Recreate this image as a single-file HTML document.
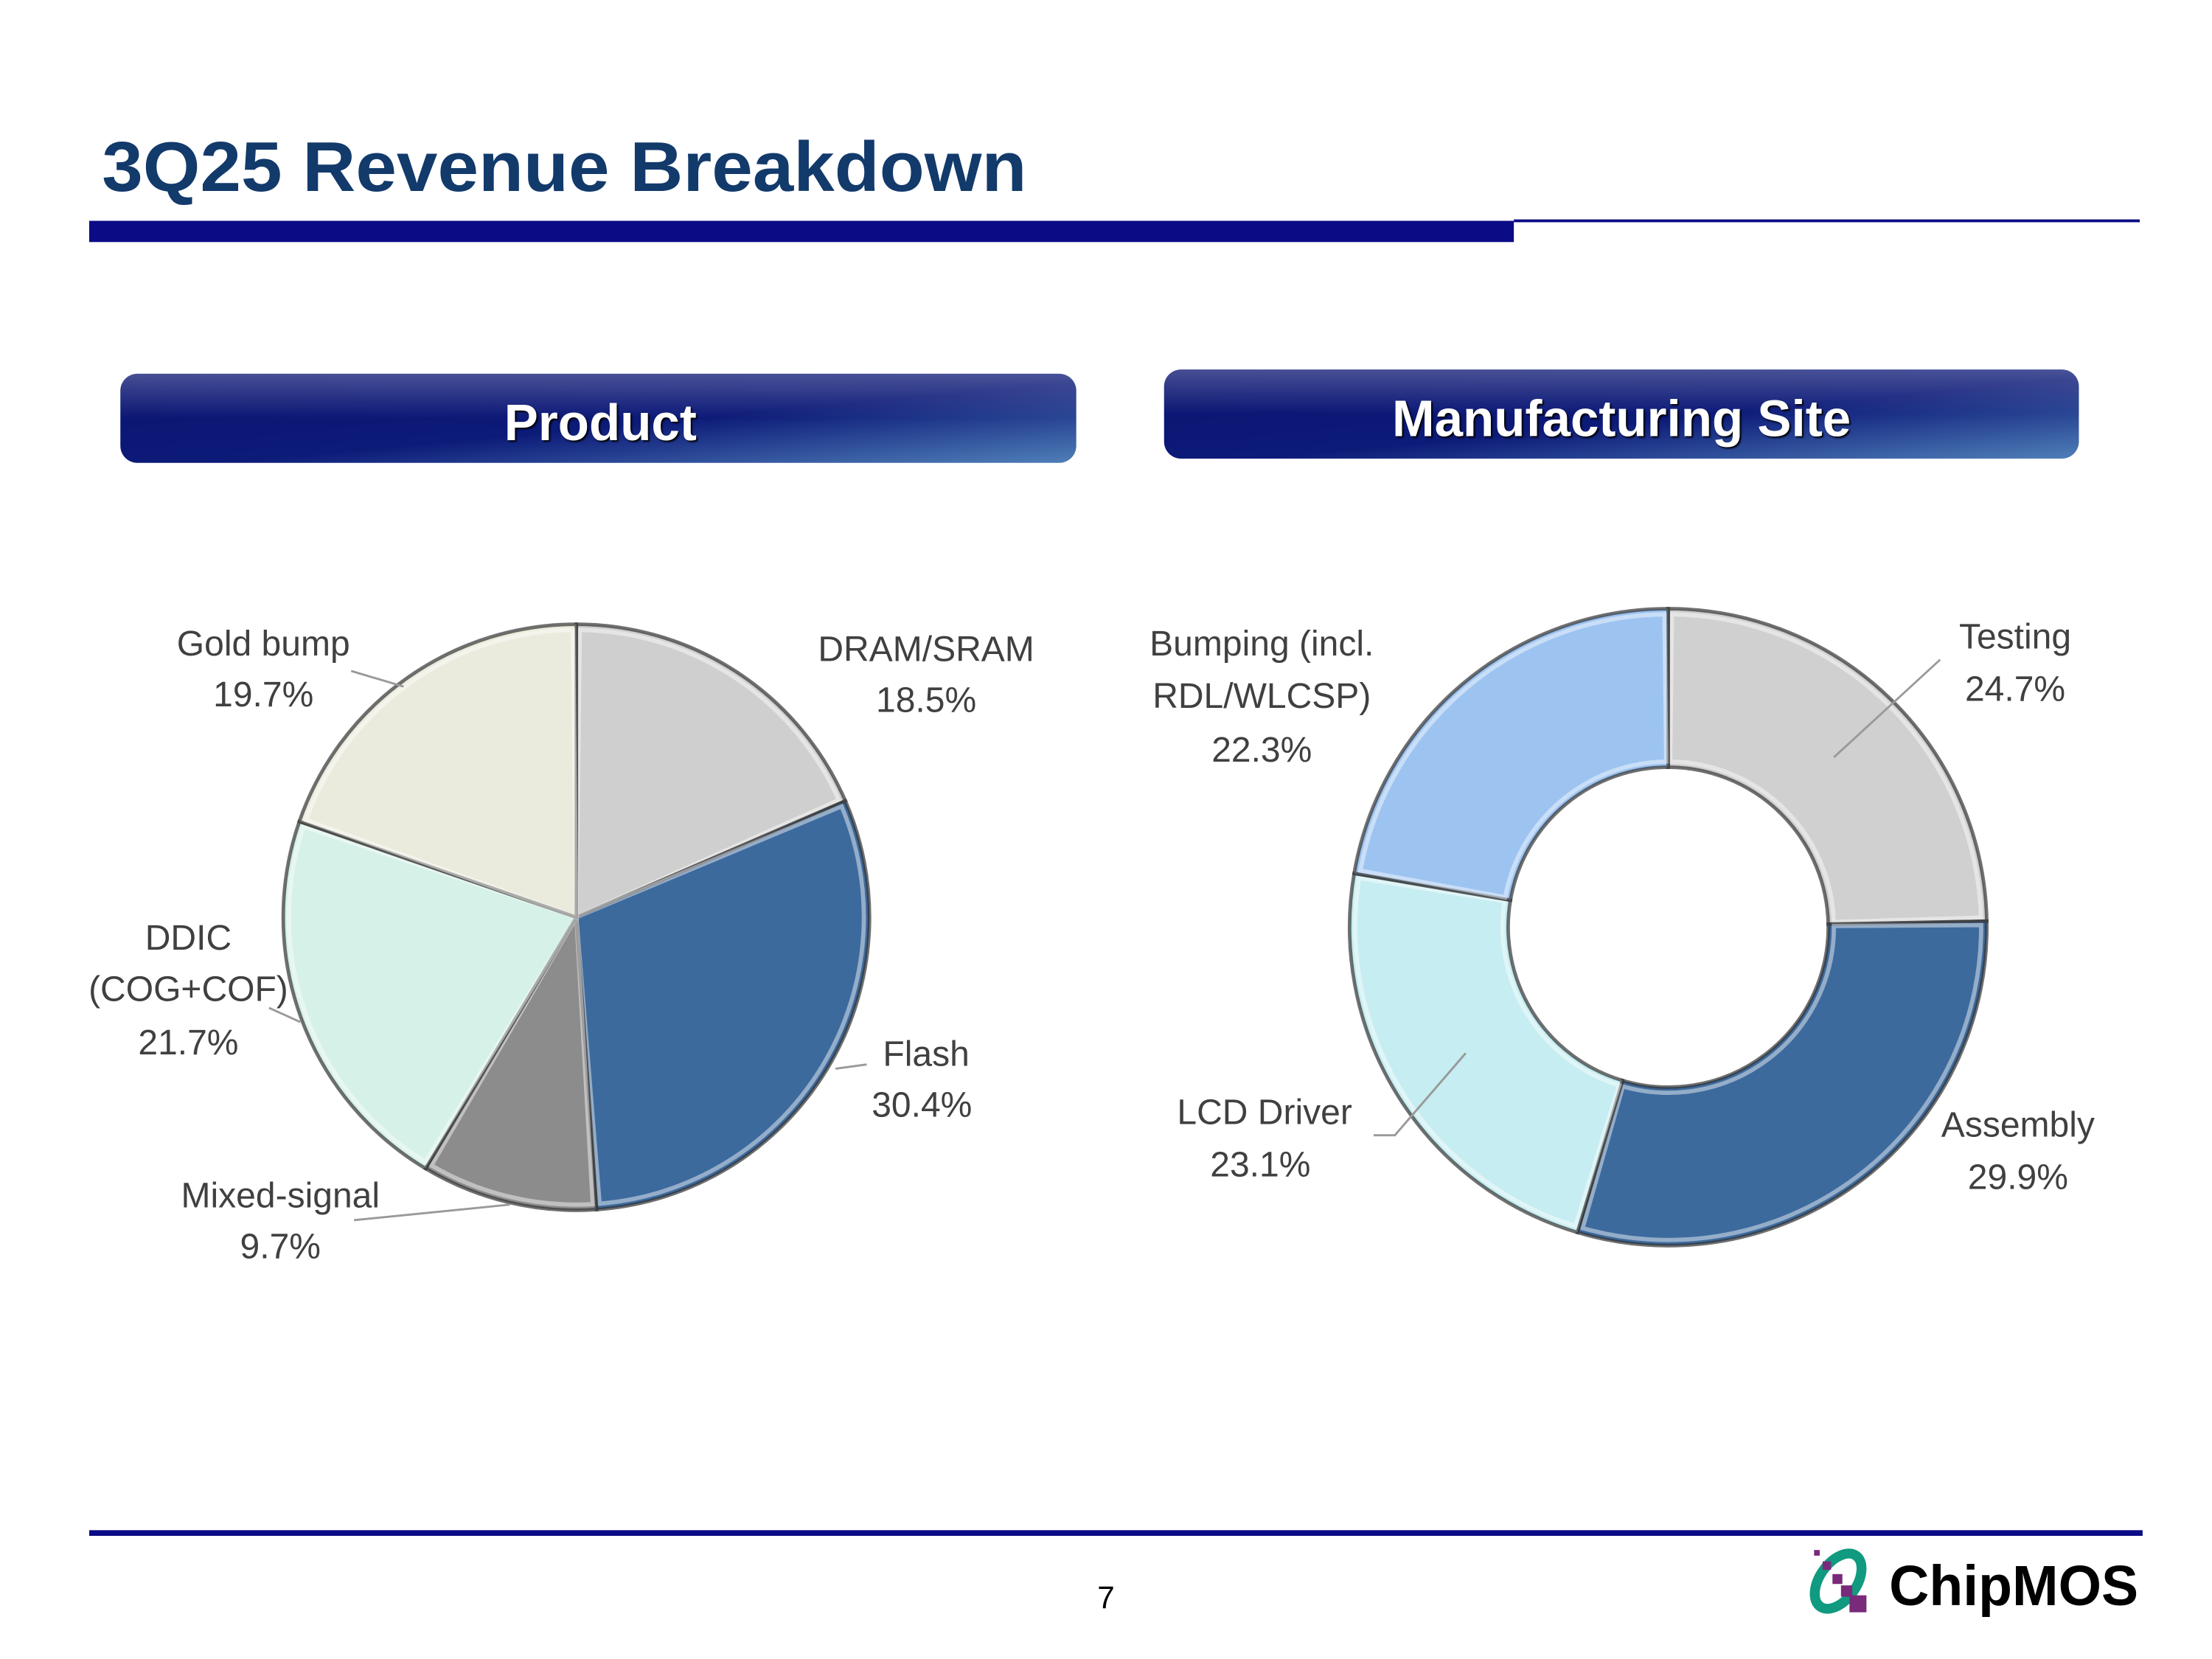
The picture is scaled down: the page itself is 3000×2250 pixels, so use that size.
<!DOCTYPE html>
<html><head><meta charset="utf-8"><style>
html,body{margin:0;padding:0;background:#fff;width:3000px;height:2250px;overflow:hidden}
svg{display:block}
text{font-family:"Liberation Sans",sans-serif}
</style></head><body>
<svg id="s" width="3000" height="2250" viewBox="0 0 1562 1172" preserveAspectRatio="none">
<defs>
<linearGradient id="hdr" x1="0" y1="0" x2="1" y2="1">
<stop offset="0" stop-color="#0a1470"/><stop offset="0.55" stop-color="#0c1a78"/><stop offset="1" stop-color="#4f7fb8"/></linearGradient>
<linearGradient id="hdr2" x1="0" y1="0" x2="0" y2="1">
<stop offset="0" stop-color="#fff" stop-opacity="0.25"/><stop offset="0.5" stop-color="#fff" stop-opacity="0"/></linearGradient>
</defs>
<text x="72" y="135" font-size="50" font-weight="bold" fill="#123a6b" textLength="653" lengthAdjust="spacingAndGlyphs">3Q25 Revenue Breakdown</text>
<rect x="63" y="156" width="1006" height="15" fill="#0b0b85"/>
<rect x="1069" y="155" width="442" height="2" fill="#0b0b85"/>
<g>
<rect x="85" y="264" width="675" height="63" rx="12" fill="url(#hdr)"/>
<rect x="85" y="264" width="675" height="63" rx="12" fill="url(#hdr2)"/>
<text x="424" y="311" font-size="36" font-weight="bold" fill="#fff" text-anchor="middle" style="text-shadow:2px 2px 2px #000">Product</text></g>
<g>
<rect x="822" y="261" width="646" height="63" rx="12" fill="url(#hdr)"/>
<rect x="822" y="261" width="646" height="63" rx="12" fill="url(#hdr2)"/>
<text x="1145" y="308" font-size="36" font-weight="bold" fill="#fff" text-anchor="middle" style="text-shadow:2px 2px 2px #000">Manufacturing Site</text></g>
<g id="pie1"></g>
<g id="pie2"></g>
<rect x="63" y="1081" width="1450" height="4" fill="#0b0b85"/>
<text x="781" y="1136" font-size="22" fill="#000" text-anchor="middle">7</text>
<g>
<ellipse cx="1298" cy="1117" rx="13" ry="22" transform="rotate(35 1298 1117)" fill="none" stroke="#109a80" stroke-width="7"/>
<rect x="1281" y="1095" width="4" height="4" fill="#7a2a7a"/><rect x="1287" y="1103" width="6" height="6" fill="#7a2a7a"/>
<rect x="1294" y="1112" width="7" height="7" fill="#7a2a7a"/><rect x="1300" y="1120" width="8" height="8" fill="#7a2a7a"/>
<rect x="1306" y="1127" width="12" height="12" fill="#7a2a7a"/>
<text x="1334" y="1134" font-size="40" font-weight="bold" fill="#000" textLength="176" lengthAdjust="spacingAndGlyphs">ChipMOS</text></g>
</svg>
<script>
const productCats=["DRAM/SRAM","Flash","Mixed-signal","DDIC (COG+COF)","Gold bump"];
const productVals=[18.5,30.4,9.7,21.7,19.7];
const productColors=["#cfcfcf","#3d6a9d","#8c8c8c","#d6f1e8","#ebebdd"];
const siteCats=["Testing","Assembly","LCD Driver","Bumping (incl. RDL/WLCSP)"];
const siteVals=[24.7,29.9,23.1,22.3];
const siteColors=["#d0d0d0","#3d6a9d","#c6edf1","#9dc4f1"];
const NS="http://www.w3.org/2000/svg";
function pt(cx,cy,r,a){return [cx+r*Math.sin(a),cy-r*Math.cos(a)];}
function arc(cx,cy,ro,ri,a0,a1){
 const L=(a1-a0)>Math.PI?1:0;const p0=pt(cx,cy,ro,a0),p1=pt(cx,cy,ro,a1);
 if(ri<=0)return `M${cx},${cy}L${p0}A${ro},${ro} 0 ${L} 1 ${p1}Z`;
 const q1=pt(cx,cy,ri,a1),q0=pt(cx,cy,ri,a0);
 return `M${p0}A${ro},${ro} 0 ${L} 1 ${p1}L${q1}A${ri},${ri} 0 ${L} 0 ${q0}Z`;}
function draw(g,vals,colors,cats,cx,cy,ro,ri){
 const tot=vals.reduce((a,b)=>a+b,0);let a=0;
 vals.forEach((v,i)=>{const a1=a+v/tot*2*Math.PI;
  const p=document.createElementNS(NS,"path");
  p.setAttribute("d",arc(cx,cy,ro,ri,a,a1));p.setAttribute("fill",colors[i]);
  p.setAttribute("stroke","#333");p.setAttribute("stroke-width","2.5");p.setAttribute("stroke-opacity","0.7");
  
  
  g.appendChild(p);
  const h=document.createElementNS(NS,"path");
  h.setAttribute("d",arc(cx,cy,ro-4,ri>0?ri+4:0,a+0.012,a1-0.012));h.setAttribute("fill","none");
  h.setAttribute("stroke","#fff");h.setAttribute("stroke-opacity","0.45");h.setAttribute("stroke-width","3");
  
  
  g.appendChild(h);a=a1;});
}
draw(document.getElementById("pie1"),productVals,productColors,productCats,407,648,207,0);
draw(document.getElementById("pie2"),siteVals,siteColors,siteCats,1178,655,225,113);
const labels=[
 [["DRAM/SRAM",productVals[0]+"%"],[654,467,654,503],null],
 [["Flash",productVals[1]+"%"],[654,753,651,789],[[612,752],[590,755]]],
 [["Mixed-signal",productVals[2]+"%"],[198,853,198,889],[[250,862],[360,851]]],
 [["DDIC","(COG+COF)",productVals[3]+"%"],[133,671,133,707,133,745],[[190,712],[212,722]]],
 [["Gold bump",productVals[4]+"%"],[186,463,186,499],[[248,474],[285,485]]],
 [["Testing",siteVals[0]+"%"],[1423,458,1423,495],[[1370,466],[1295,535]]],
 [["Assembly",siteVals[1]+"%"],[1425,803,1425,840],null],
 [["LCD Driver",siteVals[2]+"%"],[893,794,890,831],[[970,802],[985,802],[1035,744]]],
 [["Bumping (incl.","RDL/WLCSP)",siteVals[3]+"%"],[891,463,891,500,891,538],null]];
const L=document.createElementNS(NS,"g");


labels.forEach(l=>{
 l[0].forEach((t,j)=>{const e=document.createElementNS(NS,"text");
  e.setAttribute("x",l[1][2*j]);e.setAttribute("y",l[1][2*j+1]);e.setAttribute("font-size","25");
  e.setAttribute("fill","#404040");e.setAttribute("text-anchor","middle");e.textContent=t;
  
  
  L.appendChild(e);});
 if(l[2]){const pl=document.createElementNS(NS,"polyline");
  pl.setAttribute("points",l[2].map(p=>p.join(",")).join(" "));pl.setAttribute("fill","none");
  pl.setAttribute("stroke","#999");pl.setAttribute("stroke-width","1.5");
  
  
  L.appendChild(pl);}
});
document.getElementById("s").appendChild(L);
</script>
</body></html>
